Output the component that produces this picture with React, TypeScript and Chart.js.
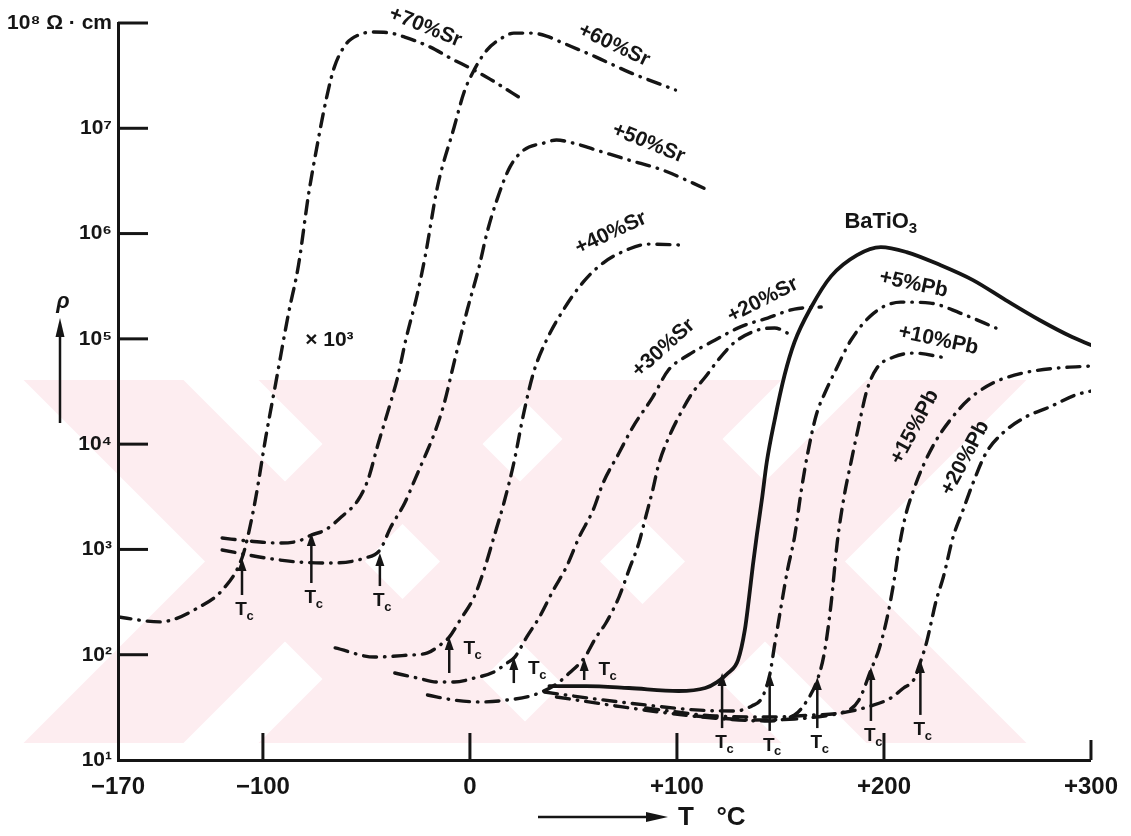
import React, { useEffect, useRef } from "react";
import { Chart, registerables } from "chart.js";

Chart.register(...registerables);

// ---------------- data (temperature °C, resistivity Ω·cm) ----------------
const sr70T = [-170, -149.9, -130.7, -118.7, -110.1, -106.8, -103.4, -98.6, -93.8, -87.6, -82.8, -78.0, -74.2, -69.4, -65.5, -59.8, -54.0, -46.9, -38.2, -31.5, -19.1, -9.5, 2.0, 9.7, 26.0];
const sr70R = [228, 205, 284, 430, 829, 1463, 3145, 11670, 38020, 175800, 502000, 2.32e6, 6.21e6, 1.89e7, 3.81e7, 6.31e7, 7.67e7, 8.2e7, 8.02e7, 7.35e7, 5.9e7, 4.64e7, 3.57e7, 2.93e7, 1.85e7];

const sr60T = [-119.7, -106.8, -92.4, -82.8, -76.6, -69.9, -62.2, -54.0, -49.3, -44.5, -38.7, -34.9, -31.0, -25.3, -21.5, -15.7, -7.6, -2.8, 2.0, 8.2, 15.4, 21.2, 29.8, 37.0, 45.1, 61.0, 76.8, 99.3];
const sr60R = [1283, 1202, 1151, 1202, 1370, 1528, 2032, 2944, 4560, 9800, 23500, 43400, 97500, 272000, 625000, 2.77e6, 1.03e7, 2.21e7, 3.57e7, 5.53e7, 7.19e7, 8.02e7, 8.02e7, 7.51e7, 6.44e7, 4.74e7, 3.42e7, 2.31e7];

const sr50T = [-119.7, -98.6, -82.8, -67.0, -50.7, -43.5, -38.2, -31.5, -26.7, -21.9, -17.1, -12.4, -7.6, -1.3, 4.4, 8.2, 13.0, 19.3, 26.0, 35.6, 41.8, 49.9, 61.0, 76.8, 93.1, 115.1];
const sr50R = [987, 829, 759, 743, 829, 987, 1632, 2760, 4560, 7540, 12740, 24550, 60250, 187800, 480800, 1.01e6, 2.08e6, 4.28e6, 6.21e6, 7.23e6, 7.73e6, 7.23e6, 6.21e6, 4.99e6, 4.01e6, 2.59e6];

const sr40T = [-65.1, -45.9, -30.1, -20.5, -14.3, -10.0, -4.7, 2.0, 6.8, 11.6, 16.4, 21.2, 26.0, 30.8, 37.0, 45.1, 54.7, 64.3, 76.8, 86.3, 102.6];
const sr40R = [116, 95, 99, 104, 124, 147, 214, 353, 637, 1312, 2760, 6620, 19730, 48400, 97500, 187800, 346000, 525000, 713000, 794000, 778000];

const sr30T = [-36.3, -25.3, -15.7, -7.6, 2.0, 11.6, 17.8, 21.7, 27.4, 33.6, 40.3, 46.6, 52.8, 59.5, 64.3, 72.0, 78.7, 88.3, 95.9, 105.5, 118.5, 130.4, 143.8, 156.8, 169.7];
const sr30R = [67, 60, 55, 55, 60, 68.5, 83, 95, 147, 228, 411, 681, 1312, 2366, 4270, 8230, 14530, 28000, 50580, 70200, 97500, 129400, 157700, 191900, 200600];

const sr20T = [-20.5, -7.6, 4.9, 17.8, 30.8, 41.8, 48.0, 55.2, 61.0, 65.7, 72.0, 76.8, 81.6, 84.9, 88.3, 91.1, 95.5, 102.6, 107.4, 113.7, 119.9, 128.0, 139.1, 147.2, 155.3];
const sr20R = [41.4, 37.1, 35.6, 37.1, 41.4, 52.7, 67, 93, 147, 200, 353, 637, 1151, 2032, 3664, 6340, 10940, 21090, 30550, 43400, 62930, 93300, 121300, 126700, 108600];

const batioT = [38.4, 56.2, 76.8, 100.7, 113.7, 119.4, 124.7, 129.5, 132.8, 134.7, 136.7, 138.6, 141.0, 143.4, 147.2, 152.0, 156.8, 164.9, 174.5, 187.0, 198.5, 210.9, 227.2, 243.0, 258.8, 275.1, 290.9, 300];
const batioR = [50.4, 50.4, 48.3, 45.2, 48.3, 55, 67, 89, 172, 331, 711, 1370, 2944, 6760, 16940, 45300, 93300, 200600, 394500, 625000, 744000, 667000, 502000, 361400, 233400, 151000, 104000, 87300];

const pb5T = [36.0, 61.0, 84.9, 108.9, 128.0, 136.2, 141.0, 144.8, 147.2, 150.6, 153.4, 156.8, 160.1, 163.0, 167.3, 172.1, 176.0, 184.1, 195.1, 208.1, 222.4, 236.8, 254.1];
const pb5R = [44.2, 37.9, 33.3, 29.9, 29.2, 32.6, 38.8, 64.2, 124, 310, 637, 1312, 3664, 7880, 18900, 32650, 47300, 97500, 175800, 223400, 218600, 175800, 126700];

const pb10T = [41.8, 70.5, 99.3, 123.2, 142.4, 156.8, 163.0, 167.8, 171.2, 174.5, 177.4, 180.7, 184.1, 187.9, 191.8, 196.6, 204.7, 214.3, 230.1];
const pb10R = [39.7, 32.6, 27.3, 24.5, 23.5, 26.8, 37.1, 57.5, 104, 310, 1151, 3145, 6760, 15180, 32650, 52800, 67200, 73300, 65800];

const pb15T = [84.9, 118.5, 147.2, 166.4, 180.7, 187.9, 193.7, 197.5, 201.3, 204.7, 207.1, 210.5, 214.3, 219.1, 225.3, 232.0, 240.6, 252.6, 267.0, 283.8, 300];
const pb15R = [31.2, 26.2, 25.6, 26.8, 28.6, 37.1, 71.6, 111, 214, 480, 987, 2123, 3664, 6340, 10940, 16940, 26240, 38020, 47300, 52800, 55200];

const pb20T = [108.9, 137.6, 156.8, 171.2, 182.2, 193.7, 203.3, 209.5, 214.3, 217.6, 220.5, 225.3, 228.7, 233.4, 238.2, 243.0, 249.3, 257.4, 268.4, 279.9, 292.4, 300];
const pb20R = [26.2, 24.0, 24.5, 26.2, 28.6, 32.6, 38.8, 48.3, 57.5, 85.3, 129, 331, 547, 1312, 2366, 4270, 8230, 12740, 18080, 22500, 29250, 31930];

// Curie-temperature markers (T_c): temperature, arrow tip value, arrow foot value
const tcT = [-110.1, -76.6, -43.5, -10.0, 21.2, 55.2, 121.8, 144.8, 167.8, 193.7, 217.6];
const tcTip = [829, 1432, 925, 147, 95, 93, 67, 67, 61.4, 76.4, 89];
const tcBase = [369, 480, 449, 67, 53.8, 57.5, 20.1, 18.9, 20.1, 23.5, 26.8];

// Curve labels and where they sit (data coordinates)
const labelTexts = ["+70%Sr", "+60%Sr", "+50%Sr", "+40%Sr", "+30%Sr", "+20%Sr", "BaTiO₃", "+5%Pb", "+10%Pb", "+15%Pb", "+20%Pb", "× 10³"];
const labelT = [-21.5, 69.6, 86.3, 68.1, 93.5, 141.5, 198.5, 214.3, 226.3, 214.8, 239.2, -67.9];
const labelR = [9.14e7, 6.17e7, 7.23e6, 1.01e6, 81800, 233400, 1.29e6, 331000, 97500, 14530, 7380, 97500];

// Axis ticks
const xTickValues = [-170, -100, 0, 100, 200, 300];
const xTickLabels = ["−170", "−100", "0", "+100", "+200", "+300"];
const yTickValues = [1e1, 1e2, 1e3, 1e4, 1e5, 1e6, 1e7, 1e8];
const yTickLabels = ["10¹", "10²", "10³", "10⁴", "10⁵", "10⁶", "10⁷", "10⁸ Ω · cm"];

// ---------------- styling ----------------
const INK = "#151515";
const FONT = '"Liberation Sans", Arial, Helvetica, sans-serif';
const labelAngles = [22, 25, 22, -25, -42, -27, 0, 12, 12, -62, -62, 0];
const tcSide = ["below", "below", "below", "right", "right", "right", "below", "below", "below", "below", "below"];

const curves = [
  { name: "+70%Sr", t: sr70T, r: sr70R, solid: false },
  { name: "+60%Sr", t: sr60T, r: sr60R, solid: false },
  { name: "+50%Sr", t: sr50T, r: sr50R, solid: false },
  { name: "+40%Sr", t: sr40T, r: sr40R, solid: false },
  { name: "+30%Sr", t: sr30T, r: sr30R, solid: false },
  { name: "+20%Sr", t: sr20T, r: sr20R, solid: false },
  { name: "BaTiO3", t: batioT, r: batioR, solid: true },
  { name: "+5%Pb", t: pb5T, r: pb5R, solid: false },
  { name: "+10%Pb", t: pb10T, r: pb10R, solid: false },
  { name: "+15%Pb", t: pb15T, r: pb15R, solid: false },
  { name: "+20%Pb", t: pb20T, r: pb20R, solid: false },
];

const SUB: Record<string, string> = { "₀": "0", "₁": "1", "₂": "2", "₃": "3", "₄": "4", "₅": "5", "₆": "6", "₇": "7", "₈": "8", "₉": "9" };

// faint background stamp seen in the scanned figure
function drawWatermark(ctx: CanvasRenderingContext2D) {
  const top = 380, bot = 743, h = bot - top, w = 160;
  ctx.save();
  ctx.beginPath();
  ctx.rect(20, top, 1015, h);
  ctx.clip();
  ctx.fillStyle = "#fdedf0";
  for (const cx of [285, 520, 765]) {
    for (const dir of [1, -1]) {
      const xt = cx - (dir * h) / 2;
      const xb = cx + (dir * h) / 2;
      ctx.beginPath();
      ctx.moveTo(xt - w / 2, top);
      ctx.lineTo(xt + w / 2, top);
      ctx.lineTo(xb + w / 2, bot);
      ctx.lineTo(xb - w / 2, bot);
      ctx.closePath();
      ctx.fill();
    }
  }
  ctx.restore();
}

function drawTcLabel(ctx: CanvasRenderingContext2D, cx: number, cy: number) {
  ctx.textBaseline = "middle";
  ctx.textAlign = "center";
  ctx.font = `bold 19px ${FONT}`;
  ctx.fillText("T", cx - 3, cy - 2);
  ctx.font = `bold 13px ${FONT}`;
  ctx.fillText("c", cx + 6, cy + 4);
}

const overlay = {
  id: "overlay",
  beforeDraw(chart: any) {
    drawWatermark(chart.ctx);
  },
  afterDraw(chart: any) {
    const { ctx, chartArea: ca } = chart;
    const xs = chart.scales.x;
    const ys = chart.scales.y;
    ctx.save();
    ctx.strokeStyle = INK;
    ctx.fillStyle = INK;
    ctx.lineCap = "butt";

    // inward tick marks
    ctx.lineWidth = 3;
    yTickValues.forEach((v) => {
      if (v <= ys.min) return;
      const py = ys.getPixelForValue(v);
      ctx.beginPath();
      ctx.moveTo(ca.left, py);
      ctx.lineTo(ca.left + 30, py);
      ctx.stroke();
    });
    xTickValues.forEach((v) => {
      if (v <= xs.min) return;
      const px = xs.getPixelForValue(v);
      const len = v >= xs.max ? 20 : 27;
      ctx.beginPath();
      ctx.moveTo(px, ca.bottom);
      ctx.lineTo(px, ca.bottom - len);
      ctx.stroke();
    });

    // T_c arrows
    tcT.forEach((t, i) => {
      const px = xs.getPixelForValue(t);
      const tip = ys.getPixelForValue(tcTip[i]);
      const base = ys.getPixelForValue(tcBase[i]);
      ctx.lineWidth = 2.5;
      ctx.beginPath();
      ctx.moveTo(px, base);
      ctx.lineTo(px, tip + 10);
      ctx.stroke();
      ctx.beginPath();
      ctx.moveTo(px, tip);
      ctx.lineTo(px - 4.5, tip + 13);
      ctx.lineTo(px + 4.5, tip + 13);
      ctx.closePath();
      ctx.fill();
      if (tcSide[i] === "right") drawTcLabel(ctx, px + 23, tip + 14);
      else drawTcLabel(ctx, px + 2, base + 17);
    });

    // curve labels
    labelTexts.forEach((txt, i) => {
      const px = xs.getPixelForValue(labelT[i]);
      const py = ys.getPixelForValue(labelR[i]);
      ctx.save();
      ctx.translate(px, py);
      ctx.rotate((labelAngles[i] * Math.PI) / 180);
      ctx.textBaseline = "middle";
      const last = txt[txt.length - 1];
      if (SUB[last]) {
        const main = txt.slice(0, -1);
        ctx.font = `bold 22px ${FONT}`;
        const wMain = ctx.measureText(main).width;
        ctx.font = `bold 15px ${FONT}`;
        const wSub = ctx.measureText(SUB[last]).width;
        const x0 = -(wMain + wSub) / 2;
        ctx.textAlign = "left";
        ctx.font = `bold 22px ${FONT}`;
        ctx.fillText(main, x0, 0);
        ctx.font = `bold 15px ${FONT}`;
        ctx.fillText(SUB[last], x0 + wMain, 7);
      } else {
        ctx.textAlign = "center";
        ctx.font = `bold 21px ${FONT}`;
        ctx.fillText(txt, 0, 0);
      }
      ctx.restore();
    });

    // x-axis title: ——► T  °C
    const ty = ca.bottom + 57;
    ctx.lineWidth = 2.5;
    ctx.beginPath();
    ctx.moveTo(538, ty);
    ctx.lineTo(652, ty);
    ctx.stroke();
    ctx.beginPath();
    ctx.moveTo(668, ty);
    ctx.lineTo(646, ty - 5);
    ctx.lineTo(646, ty + 5);
    ctx.closePath();
    ctx.fill();
    ctx.font = `bold 26px ${FONT}`;
    ctx.textAlign = "center";
    ctx.textBaseline = "middle";
    ctx.fillText("T", 686, ty + 1);
    ctx.fillText("°C", 731, ty + 1);

    // y-axis title: ρ with upward arrow
    ctx.lineWidth = 2.5;
    ctx.beginPath();
    ctx.moveTo(60, 423);
    ctx.lineTo(60, 334);
    ctx.stroke();
    ctx.beginPath();
    ctx.moveTo(60, 318);
    ctx.lineTo(55.5, 337);
    ctx.lineTo(64.5, 337);
    ctx.closePath();
    ctx.fill();
    ctx.font = `italic bold 22px ${FONT}`;
    ctx.fillText("ρ", 63, 302);

    ctx.restore();
  },
};

export default function App() {
  const ref = useRef<HTMLCanvasElement>(null);

  useEffect(() => {
    if (!ref.current) return;
    const datasets = curves.map((c) => ({
      label: c.name,
      data: c.t.map((t, i) => ({ x: t, y: c.r[i] })),
      borderColor: INK,
      borderWidth: c.solid ? 3.8 : 3.4,
      borderDash: c.solid ? [] : [13, 8, 0.5, 8],
      borderCapStyle: "round" as const,
      borderJoinStyle: "round" as const,
      pointRadius: 0,
      fill: false,
      cubicInterpolationMode: "monotone" as const,
    }));

    const chart = new Chart(ref.current, {
      type: "line",
      data: { datasets },
      options: {
        animation: false,
        responsive: false,
        devicePixelRatio: 1,
        events: [],
        layout: { padding: { left: 0, top: 23, right: 32, bottom: 0 } },
        plugins: { legend: { display: false }, tooltip: { enabled: false }, title: { display: false } },
        scales: {
          x: {
            type: "linear",
            min: -170,
            max: 300,
            afterBuildTicks: (s: any) => {
              s.ticks = xTickValues.map((v) => ({ value: v }));
            },
            afterFit: (s: any) => {
              s.height = 76;
            },
            grid: { display: false, drawTicks: false },
            border: { display: true, width: 3, color: INK },
            ticks: {
              autoSkip: false,
              maxRotation: 0,
              padding: 13,
              color: INK,
              font: { family: FONT, size: 24, weight: "bold" },
              callback: (_v: any, i: number) => xTickLabels[i],
            },
          },
          y: {
            type: "logarithmic",
            min: 10,
            max: 1e8,
            afterBuildTicks: (s: any) => {
              s.ticks = yTickValues.map((v) => ({ value: v }));
            },
            afterFit: (s: any) => {
              s.width = 118;
            },
            grid: { display: false, drawTicks: false },
            border: { display: true, width: 3, color: INK },
            ticks: {
              autoSkip: false,
              padding: 6,
              color: INK,
              font: { family: FONT, size: 21, weight: "bold" },
              callback: (_v: any, i: number) => yTickLabels[i],
            },
          },
        },
      },
      plugins: [overlay],
    } as any);

    return () => chart.destroy();
  }, []);

  return (
    <div style={{ position: "fixed", left: 0, top: 0, width: 1131, height: 836, background: "#fff" }}>
      <canvas ref={ref} width={1131} height={836} style={{ display: "block" }} />
    </div>
  );
}
